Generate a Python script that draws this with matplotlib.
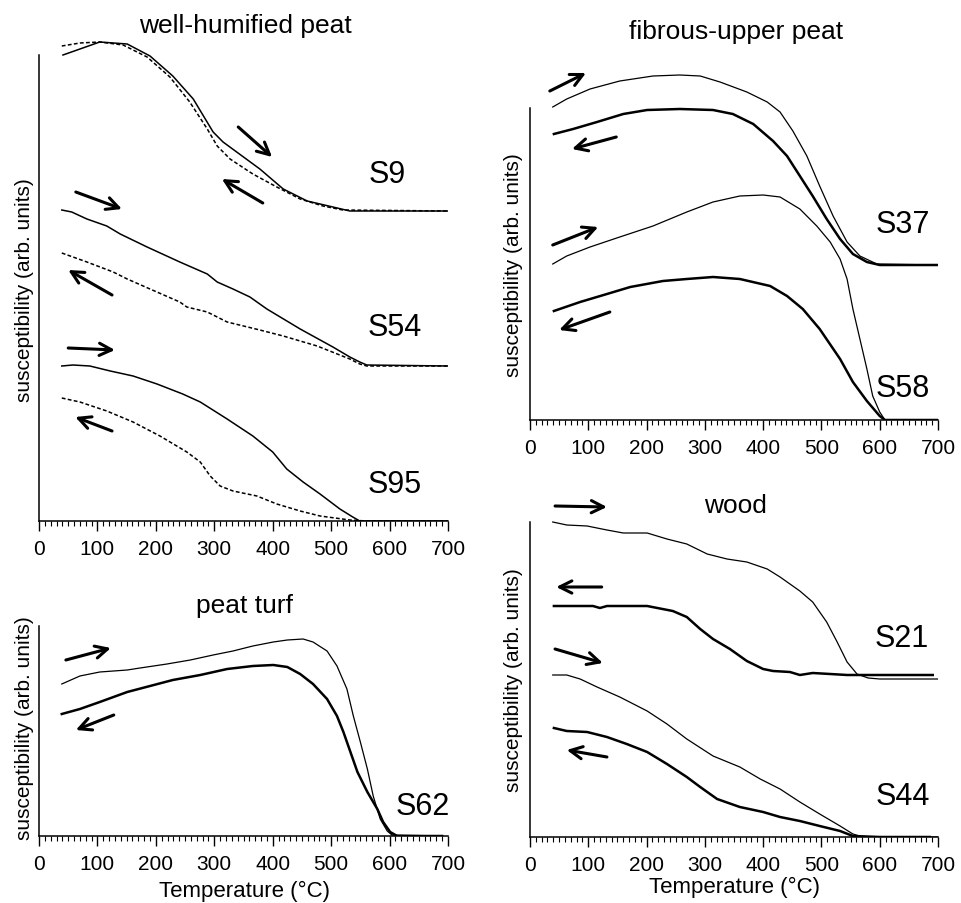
import matplotlib
matplotlib.use('Agg')
import matplotlib.pyplot as plt
from matplotlib.ticker import MultipleLocator

plt.rcParams['font.family'] = ['Liberation Sans', 'DejaVu Sans']

W, H = 962, 904

# ---- well-humified peat (heating solid, cooling dashed) ----
s9_heat_T = [41, 104, 151, 190, 229, 264, 298, 315, 378, 418, 459, 503, 532, 700]
s9_heat_k = [466, 479, 477, 465, 445, 422, 389, 379, 352, 332, 320, 314, 310, 310]
s9_cool_T = [39, 70, 104, 144, 185, 224, 258, 288, 305, 327, 366, 407, 447, 486, 520, 700]
s9_cool_k = [475, 478, 479, 476, 464, 444, 419, 392, 375, 362, 347, 334, 322, 315, 311, 310]

s54_heat_T = [39, 56, 82, 116, 139, 185, 241, 288, 305, 332, 361, 390, 447, 503, 532, 549, 561, 700]
s54_heat_k = [311, 309, 302, 295, 287, 274, 259, 247, 239, 232, 224, 212, 192, 174, 164, 159, 156, 155]
s54_cool_T = [39, 82, 127, 151, 190, 241, 253, 288, 322, 378, 418, 476, 532, 549, 561, 700]
s54_cool_k = [268, 259, 249, 242, 232, 219, 214, 209, 199, 191, 185, 175, 162, 157, 155, 155]

s95_heat_T = [39, 58, 87, 122, 161, 202, 246, 276, 322, 366, 400, 424, 452, 481, 515, 537, 549, 700]
s95_heat_k = [155, 156, 155, 150, 145, 137, 127, 119, 102, 85, 69, 52, 39, 27, 12, 4, 0, 0]
s95_cool_T = [39, 70, 116, 161, 207, 253, 276, 293, 310, 332, 373, 407, 447, 481, 532, 561, 700]
s95_cool_k = [123, 119, 110, 99, 85, 69, 59, 45, 35, 30, 25, 17, 10, 5, 1, 0, 0]

# ---- fibrous-upper peat ----
s37_heat_T = [39, 63, 103, 154, 211, 257, 292, 326, 372, 407, 429, 451, 475, 497, 520, 544, 566, 595, 700]
s37_heat_k = [313, 321, 331, 339, 344, 345, 344, 338, 328, 318, 308, 289, 264, 234, 204, 178, 164, 156, 155]
s37_cool_T = [41, 74, 115, 160, 201, 257, 314, 348, 383, 417, 441, 463, 485, 509, 532, 554, 578, 600, 700]
s37_cool_k = [286, 291, 298, 306, 310, 311, 310, 306, 296, 279, 264, 244, 224, 201, 181, 166, 158, 155, 155]

s58_heat_T = [39, 63, 103, 154, 211, 269, 314, 360, 400, 429, 463, 492, 515, 532, 544, 554, 566, 578, 588, 600, 609, 700]
s58_heat_k = [156, 164, 173, 183, 194, 208, 218, 224, 225, 223, 211, 194, 178, 161, 141, 111, 81, 51, 24, 8, 0, 0]
s58_cool_T = [41, 86, 132, 172, 228, 269, 314, 360, 412, 441, 468, 497, 532, 554, 578, 600, 609, 700]
s58_cool_k = [109, 118, 126, 133, 139, 141, 143, 141, 134, 124, 111, 91, 61, 38, 19, 4, 0, 0]

# ---- peat turf ----
s62_heat_T = [39, 70, 104, 151, 173, 219, 259, 298, 332, 366, 401, 425, 452, 469, 493, 510, 527, 538, 550, 562, 572, 584, 596, 604, 690]
s62_heat_k = [152, 160, 164, 166, 168, 172, 176, 181, 185, 190, 194, 196, 197, 194, 185, 170, 147, 120, 94, 67, 40, 17, 5, 1, 0]
s62_cool_T = [39, 70, 104, 151, 190, 229, 276, 322, 366, 401, 425, 447, 469, 493, 510, 521, 533, 545, 562, 579, 589, 601, 613, 690]
s62_cool_k = [122, 127, 134, 144, 150, 156, 161, 167, 170, 171, 169, 162, 152, 137, 120, 104, 84, 64, 44, 27, 14, 4, 0, 0]

# ---- wood ----
s21_heat_T = [39, 63, 98, 132, 160, 201, 235, 269, 304, 338, 372, 407, 429, 463, 485, 509, 527, 544, 561, 580, 600, 700]
s21_heat_k = [315, 312, 311, 307, 304, 304, 298, 293, 283, 278, 275, 268, 260, 246, 235, 215, 195, 175, 163, 159, 158, 158]
s21_cool_T = [41, 108, 120, 132, 201, 245, 269, 292, 314, 343, 372, 400, 417, 446, 463, 485, 515, 544, 691]
s21_cool_k = [231, 231, 229, 231, 231, 226, 220, 208, 198, 188, 176, 168, 166, 165, 162, 164, 163, 162, 162]

s44_heat_T = [39, 63, 86, 115, 154, 201, 235, 269, 314, 360, 395, 429, 463, 497, 532, 554, 571, 700]
s44_heat_k = [162, 162, 158, 150, 140, 126, 113, 98, 81, 70, 58, 48, 35, 23, 11, 3, 0, 0]
s44_cool_T = [41, 63, 98, 132, 166, 201, 235, 269, 292, 321, 360, 400, 429, 463, 497, 532, 554, 600, 686]
s44_cool_k = [109, 106, 105, 100, 93, 85, 73, 60, 50, 38, 30, 25, 20, 16, 11, 6, 1, 0, 0]

# arrows: (T_tail, k_tail, T_head, k_head)
arrows_humified = [(341, 394, 399, 364), (383, 318, 313, 342),
                   (63, 329, 142, 312), (125, 226, 50, 251),
                   (50, 173, 130, 171), (125, 90, 62, 104)]
arrows_fibrous = [(34, 329, 96, 347), (148, 283, 72, 271),
                  (39, 175, 117, 193), (137, 108, 50, 90)]
arrows_turf = [(46, 176, 123, 188), (128, 121, 63, 106)]
arrows_wood = [(43, 331, 132, 330), (123, 250, 45, 250),
               (43, 188, 125, 174), (132, 80, 63, 87)]

# sample labels: (name, T, k)
labels_humified = [('S9', 596, 339), ('S54', 609, 186), ('S95', 609, 29)]
labels_fibrous = [('S37', 640, 188), ('S58', 640, 24)]
labels_turf = [('S62', 656, 22)]
labels_wood = [('S21', 638, 191), ('S44', 640, 33)]


def make_axes(fig, left, right, bottom, top, spine_top):
    ax = fig.add_axes([left / W, 1 - bottom / H, (right - left) / W, (bottom - top) / H])
    ax.set_xlim(0, 700)
    ax.set_ylim(0, bottom - top)
    ax.spines['top'].set_visible(False)
    ax.spines['right'].set_visible(False)
    ax.spines['left'].set_bounds(0, bottom - spine_top)
    for s in ('left', 'bottom'):
        ax.spines[s].set_linewidth(1.1)
    ax.set_yticks([])
    ax.xaxis.set_major_locator(MultipleLocator(100))
    ax.xaxis.set_minor_locator(MultipleLocator(10))
    ax.tick_params(axis='x', which='major', direction='out', length=7, width=1.0,
                   pad=6, labelsize=15)
    ax.tick_params(axis='x', which='minor', direction='out', length=3.5, width=0.8)
    ax.patch.set_alpha(0)
    return ax


def draw_arrows(ax, arrows):
    for t0, k0, t1, k1 in arrows:
        ax.annotate('', xy=(t1, k1), xytext=(t0, k0),
                    arrowprops=dict(arrowstyle='->', lw=2.2, color='black',
                                    mutation_scale=22, shrinkA=0, shrinkB=0))


def draw_labels(ax, labels):
    for name, t, k in labels:
        ax.text(t, k, name, ha='center', va='baseline', fontsize=22)


fig = plt.figure(figsize=(W / 100, H / 100), dpi=100)

# top-left
ax1 = make_axes(fig, 39, 448, 522, 30, 56)
dash = (0, (2.5, 1.5))
ax1.plot(s9_heat_T, s9_heat_k, color='black', lw=1.1)
ax1.plot(s9_cool_T, s9_cool_k, color='black', lw=1.1, linestyle=dash)
ax1.plot(s54_heat_T, s54_heat_k, color='black', lw=1.1)
ax1.plot(s54_cool_T, s54_cool_k, color='black', lw=1.1, linestyle=dash)
ax1.plot(s95_heat_T, s95_heat_k, color='black', lw=1.1)
ax1.plot(s95_cool_T, s95_cool_k, color='black', lw=1.1, linestyle=dash)
draw_arrows(ax1, arrows_humified)
draw_labels(ax1, labels_humified)

# top-right
ax2 = make_axes(fig, 530, 938, 421, 60, 109)
ax2.plot(s37_heat_T, s37_heat_k, color='black', lw=0.9)
ax2.plot(s37_cool_T, s37_cool_k, color='black', lw=1.8)
ax2.plot(s58_heat_T, s58_heat_k, color='black', lw=0.9)
ax2.plot(s58_cool_T, s58_cool_k, color='black', lw=1.8)
draw_arrows(ax2, arrows_fibrous)
draw_labels(ax2, labels_fibrous)

# bottom-left
ax3 = make_axes(fig, 39, 448, 837, 620, 627)
ax3.plot(s62_heat_T, s62_heat_k, color='black', lw=0.9)
ax3.plot(s62_cool_T, s62_cool_k, color='black', lw=1.8)
draw_arrows(ax3, arrows_turf)
draw_labels(ax3, labels_turf)

# bottom-right
ax4 = make_axes(fig, 530, 938, 838, 495, 523)
ax4.plot(s21_heat_T, s21_heat_k, color='black', lw=0.9)
ax4.plot(s21_cool_T, s21_cool_k, color='black', lw=1.8)
ax4.plot(s44_heat_T, s44_heat_k, color='black', lw=0.9)
ax4.plot(s44_cool_T, s44_cool_k, color='black', lw=1.8)
draw_arrows(ax4, arrows_wood)
draw_labels(ax4, labels_wood)


def ftext(x, y, s, **kw):
    fig.text(x / W, 1 - y / H, s, **kw)


ftext(245, 33, 'well-humified peat', ha='center', va='baseline', fontsize=19)
ftext(736, 39, 'fibrous-upper peat', ha='center', va='baseline', fontsize=19)
ftext(245, 613, 'peat turf', ha='center', va='baseline', fontsize=19)
ftext(735, 513, 'wood', ha='center', va='baseline', fontsize=19)

ylab = 'susceptibility (arb. units)'
ftext(25, 290, ylab, rotation=90, ha='center', va='center', fontsize=15)
ftext(514, 265, ylab, rotation=90, ha='center', va='center', fontsize=15)
ftext(25, 728, ylab, rotation=90, ha='center', va='center', fontsize=15)
ftext(514, 680, ylab, rotation=90, ha='center', va='center', fontsize=15)

ftext(245, 897, 'Temperature (°C)', ha='center', va='baseline', fontsize=16)
ftext(735, 893, 'Temperature (°C)', ha='center', va='baseline', fontsize=16)

fig.savefig('out.png', dpi=100)
